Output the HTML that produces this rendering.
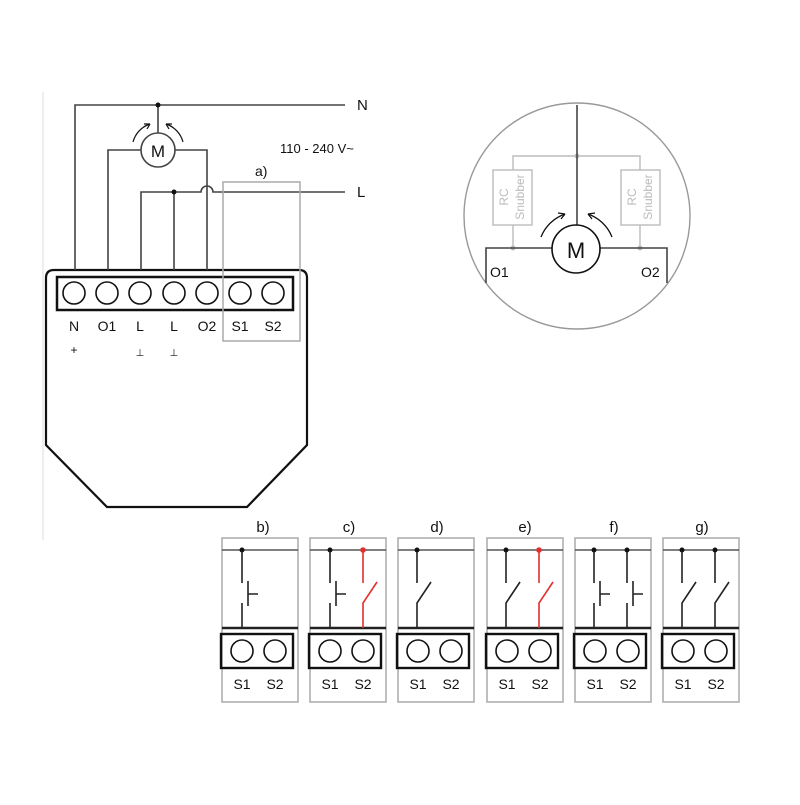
<!DOCTYPE html>
<html><head><meta charset="utf-8"><style>
html,body{margin:0;padding:0;background:#fff}
svg text{font-family:"Liberation Sans",sans-serif;fill:#111}
</style></head><body>
<svg width="800" height="800" viewBox="0 0 800 800" xmlns="http://www.w3.org/2000/svg">
<line x1="43" y1="92" x2="43" y2="540" stroke="#eee" stroke-width="2"/>
<!-- device -->
<path d="M46 278 Q46 270 54 270 L299 270 Q307 270 307 278 L307 445 L247 507 L107 507 L46 445 Z" fill="none" stroke="#111" stroke-width="2.2"/>
<rect x="57" y="277" width="236" height="33" fill="none" stroke="#111" stroke-width="2.5"/>
<g fill="none" stroke="#111" stroke-width="1.6">
<circle cx="74" cy="293" r="11"/><circle cx="107" cy="293" r="11"/><circle cx="140" cy="293" r="11"/><circle cx="174" cy="293" r="11"/><circle cx="207" cy="293" r="11"/><circle cx="240" cy="293" r="11"/><circle cx="273" cy="293" r="11"/>
</g>
<g font-size="14" text-anchor="middle">
<text x="74" y="331">N</text><text x="107" y="331">O1</text><text x="140" y="331">L</text><text x="174" y="331">L</text><text x="207" y="331">O2</text><text x="240" y="331">S1</text><text x="273" y="331">S2</text>
<text x="74" y="354" font-size="12">+</text><text x="140" y="356" font-size="10">⊥</text><text x="174" y="356" font-size="10">⊥</text>
</g>
<!-- wires -->
<g fill="none" stroke="#444" stroke-width="1.6">
<path d="M75 270 V105 H345"/>
<path d="M158 105 V133"/>
<path d="M108 270 V150 H141"/>
<path d="M175 150 H207 V270"/>
<path d="M141 270 V192 H201 A6 6 0 0 1 213 192 H345"/>
<path d="M174 192 V270"/>
</g>
<circle cx="158" cy="105" r="2.5" fill="#111"/>
<circle cx="174" cy="192" r="2.5" fill="#111"/>
<circle cx="158" cy="150" r="17" fill="#fff" stroke="#444" stroke-width="1.6"/>
<text x="158" y="157" font-size="17" text-anchor="middle">M</text>
<path d="M133 142 A26 26 0 0 1 150 124" fill="none" stroke="#111" stroke-width="1.2"/>
<path d="M150 124 l-6 0 m6 0 l-3 5" stroke="#111" stroke-width="1.2" fill="none"/>
<path d="M183 142 A26 26 0 0 0 166 124" fill="none" stroke="#111" stroke-width="1.2"/>
<path d="M166 124 l6 0 m-6 0 l3 5" stroke="#111" stroke-width="1.2" fill="none"/>
<text x="357" y="110" font-size="15">N</text>
<text x="357" y="197" font-size="15">L</text>
<text x="280" y="153" font-size="13">110 - 240 V~</text>
<text x="255" y="176" font-size="14">a)</text>
<rect x="223" y="182" width="77" height="159" fill="none" stroke="#aaa" stroke-width="1.5"/>
<!-- circle detail -->
<circle cx="577" cy="216" r="113" fill="none" stroke="#999" stroke-width="1.4"/>
<g stroke="#bbb" stroke-width="1.4" fill="none">
<path d="M513 248 V156 H640 V248"/>
<rect x="493" y="170" width="39" height="55" fill="#fff"/>
<rect x="621" y="170" width="39" height="55" fill="#fff"/>
</g>
<circle cx="577" cy="156" r="2.5" fill="#bbb"/>
<circle cx="513" cy="248" r="2.5" fill="#bbb"/>
<circle cx="640" cy="248" r="2.5" fill="#bbb"/>
<g font-size="12" fill="#bbb" text-anchor="middle">
<text transform="translate(508 197) rotate(-90)" style="fill:#bbb">RC</text>
<text transform="translate(524 197) rotate(-90)" style="fill:#bbb">Snubber</text>
<text transform="translate(636 197) rotate(-90)" style="fill:#bbb">RC</text>
<text transform="translate(652 197) rotate(-90)" style="fill:#bbb">Snubber</text>
</g>
<g stroke="#444" stroke-width="1.6" fill="none">
<path d="M577 105 V225"/>
<path d="M486 283 V248 H552"/>
<path d="M600 248 H667 V283"/>
</g>
<circle cx="576" cy="249" r="24" fill="#fff" stroke="#111" stroke-width="1.6"/>
<text x="576" y="258" font-size="22" text-anchor="middle">M</text>
<path d="M541 237 A40 40 0 0 1 565 214" fill="none" stroke="#111" stroke-width="1.3"/>
<path d="M565 214 l-7 -1 m7 1 l-4 5" stroke="#111" stroke-width="1.3" fill="none"/>
<path d="M612 237 A40 40 0 0 0 588 214" fill="none" stroke="#111" stroke-width="1.3"/>
<path d="M588 214 l7 -1 m-7 1 l4 5" stroke="#111" stroke-width="1.3" fill="none"/>
<text x="490" y="277" font-size="14">O1</text>
<text x="641" y="277" font-size="14">O2</text>
<!-- bottom panels -->
<defs>
<g id="panel">
<rect x="0" y="0" width="76" height="164" fill="none" stroke="#aaa" stroke-width="1.5"/>
<line x1="0" y1="12" x2="76" y2="12" stroke="#555" stroke-width="1.6"/>
<line x1="0" y1="90" x2="76" y2="90" stroke="#222" stroke-width="2.4"/>
<rect x="-1" y="96" width="72" height="34" fill="none" stroke="#111" stroke-width="2.4"/>
<circle cx="20" cy="113" r="11" fill="none" stroke="#111" stroke-width="1.6"/>
<circle cx="53" cy="113" r="11" fill="none" stroke="#111" stroke-width="1.6"/>
<text x="20" y="151" font-size="14" text-anchor="middle">S1</text>
<text x="53" y="151" font-size="14" text-anchor="middle">S2</text>
</g>
</defs>
<g font-size="15" text-anchor="middle">
<text x="263" y="532">b)</text><text x="349" y="532">c)</text><text x="437" y="532">d)</text><text x="525" y="532">e)</text><text x="614" y="532">f)</text><text x="702" y="532">g)</text>
</g>
<use href="#panel" x="222" y="538"/>
<use href="#panel" x="310" y="538"/>
<use href="#panel" x="398" y="538"/>
<use href="#panel" x="487" y="538"/>
<use href="#panel" x="575" y="538"/>
<use href="#panel" x="663" y="538"/>
<defs>
<g id="push" fill="none" stroke-width="1.6">
<path d="M0 12 V45 M0 65 V90 M6 43 V68 M6 56 H16"/>
</g>
<g id="tog" fill="none" stroke-width="1.6">
<path d="M0 12 V45 M0 90 V65 L14 44"/>
</g>
</defs>
<g stroke="#222">
<use href="#push" x="242" y="538"/><circle cx="242" cy="550" r="2.5" fill="#111" stroke="none"/>
<use href="#push" x="330" y="538"/><circle cx="330" cy="550" r="2.5" fill="#111" stroke="none"/>
<use href="#tog" x="417" y="538"/><circle cx="417" cy="550" r="2.5" fill="#111" stroke="none"/>
<use href="#tog" x="506" y="538"/><circle cx="506" cy="550" r="2.5" fill="#111" stroke="none"/>
<use href="#push" x="594" y="538"/><circle cx="594" cy="550" r="2.5" fill="#111" stroke="none"/>
<use href="#push" x="627" y="538"/><circle cx="627" cy="550" r="2.5" fill="#111" stroke="none"/>
<use href="#tog" x="682" y="538"/><circle cx="682" cy="550" r="2.5" fill="#111" stroke="none"/>
<use href="#tog" x="715" y="538"/><circle cx="715" cy="550" r="2.5" fill="#111" stroke="none"/>
</g>
<g stroke="#e03030">
<use href="#tog" x="363" y="538"/>
<use href="#tog" x="539" y="538"/>
</g>
<circle cx="363" cy="550" r="2.8" fill="#e03030"/>
<circle cx="539" cy="550" r="2.8" fill="#e03030"/>
</svg>
</body></html>
